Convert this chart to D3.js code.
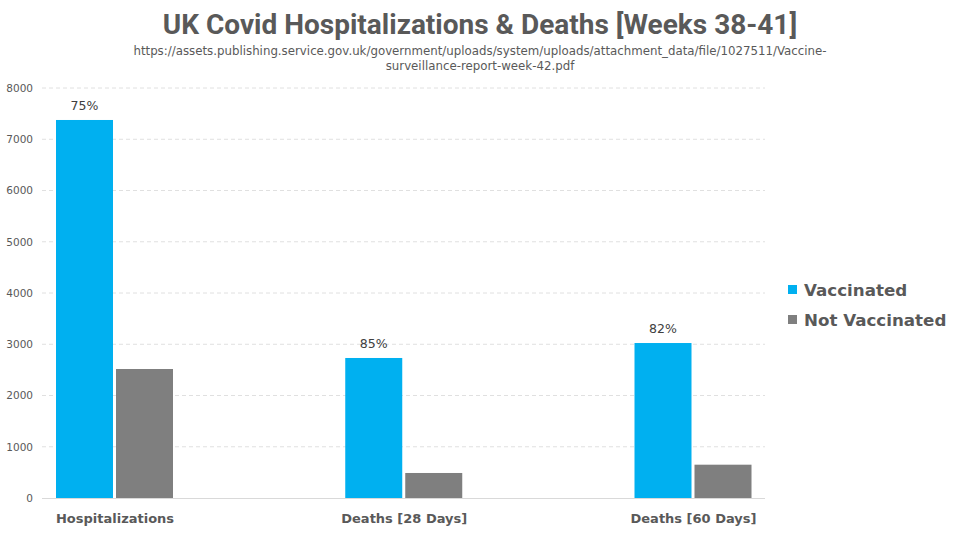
<!DOCTYPE html>
<html><head><meta charset="utf-8">
<script src="https://cdn.jsdelivr.net/npm/d3@7"></script>
<style>body{margin:0;background:#fff}svg{display:block}</style>
</head><body>
<script>
const categories = ["Hospitalizations", "Deaths [28 Days]", "Deaths [60 Days]"];
const seriesNames = ["Vaccinated", "Not Vaccinated"];
const vaccinated = [7376, 2732, 3024];
const notVaccinated = [2517, 488, 650];
const pctLabels = ["75%", "85%", "82%"];
const yTicks = [0, 1000, 2000, 3000, 4000, 5000, 6000, 7000, 8000];
const colors = ["#00B0F0", "#7F7F7F"];

const W = 960, H = 537;
const svg = d3.select("body").append("svg").attr("width", W).attr("height", H);
const font = "'DejaVu Sans', sans-serif";
const txt = "#595959";

const y = d3.scaleLinear().domain([0, 8000]).range([498, 88]);
const xc = d3.scalePoint().domain(categories).range([114.5, 693]);
const xs = d3.scaleBand().domain(seriesNames).range([-58.5, 58.5]).paddingInner(0.05);
const plotL = 42, plotR = 765;

// grid
svg.append("g").selectAll("line").data(yTicks.filter(d => d > 0)).join("line")
  .attr("x1", plotL).attr("x2", plotR).attr("y1", d => y(d)).attr("y2", d => y(d))
  .attr("stroke", "#e0e0e0").attr("stroke-dasharray", "4,3").attr("stroke-width", 1);

// y axis labels
const yAxis = d3.axisLeft(y).tickValues(yTicks).tickSize(0).tickPadding(0).tickFormat(d3.format("d"));
const ga = svg.append("g").attr("transform", `translate(33,0)`).call(yAxis);
ga.select(".domain").remove();
ga.selectAll("text").attr("font-family", font).attr("font-size", 10.5).attr("fill", txt);

// baseline
svg.append("line").attr("x1", plotL).attr("x2", plotR).attr("y1", y(0) + 0.5).attr("y2", y(0) + 0.5)
  .attr("stroke", "#d9d9d9").attr("stroke-width", 1);

const data = categories.map((c, i) => ({c, vals: [vaccinated[i], notVaccinated[i]], pct: pctLabels[i]}));
const g = svg.append("g").selectAll("g").data(data).join("g")
  .attr("transform", d => `translate(${xc(d.c)},0)`);
g.selectAll("rect").data(d => d.vals.map((v, j) => ({v, s: seriesNames[j], j}))).join("rect")
  .attr("x", d => xs(d.s)).attr("width", xs.bandwidth())
  .attr("y", d => y(d.v)).attr("height", d => y(0) - y(d.v))
  .attr("fill", d => colors[d.j]);
g.append("text").attr("x", xs(seriesNames[0]) + xs.bandwidth() / 2).attr("y", d => y(d.vals[0]) - 10)
  .attr("text-anchor", "middle").attr("font-family", font).attr("font-size", 12.5).attr("fill", "#404040")
  .text(d => d.pct);

// category labels
const xAxis = d3.axisBottom(xc).tickSize(0).tickPadding(0);
const gx = svg.append("g").attr("transform", `translate(0,514)`).call(xAxis);
gx.select(".domain").remove();
gx.selectAll("text").attr("font-family", font).attr("font-size", 13).attr("font-weight", "bold").attr("fill", txt);

// title
svg.append("text").attr("x", 480).attr("y", 34).attr("text-anchor", "middle")
  .attr("font-family", "Roboto, sans-serif").attr("font-weight", "bold").attr("font-size", 28).attr("fill", txt)
  .text("UK Covid Hospitalizations & Deaths [Weeks 38-41]");
svg.append("text").attr("x", 480).attr("y", 55).attr("text-anchor", "middle")
  .attr("font-family", font).attr("font-size", 11.8).attr("fill", txt)
  .text("https://assets.publishing.service.gov.uk/government/uploads/system/uploads/attachment_data/file/1027511/Vaccine-");
svg.append("text").attr("x", 480).attr("y", 70).attr("text-anchor", "middle")
  .attr("font-family", font).attr("font-size", 11.8).attr("fill", txt)
  .text("surveillance-report-week-42.pdf");

// legend
const lg = svg.append("g").selectAll("g").data(seriesNames).join("g")
  .attr("transform", (d, i) => `translate(788,${290 + i * 30})`);
lg.append("rect").attr("x", 0).attr("y", -5).attr("width", 9).attr("height", 9).attr("fill", (d, i) => colors[i]);
lg.append("text").attr("x", 16).attr("y", 6).attr("font-family", font).attr("font-weight", "bold")
  .attr("font-size", 16.7).attr("fill", txt).text(d => d);
</script>
</body></html>
